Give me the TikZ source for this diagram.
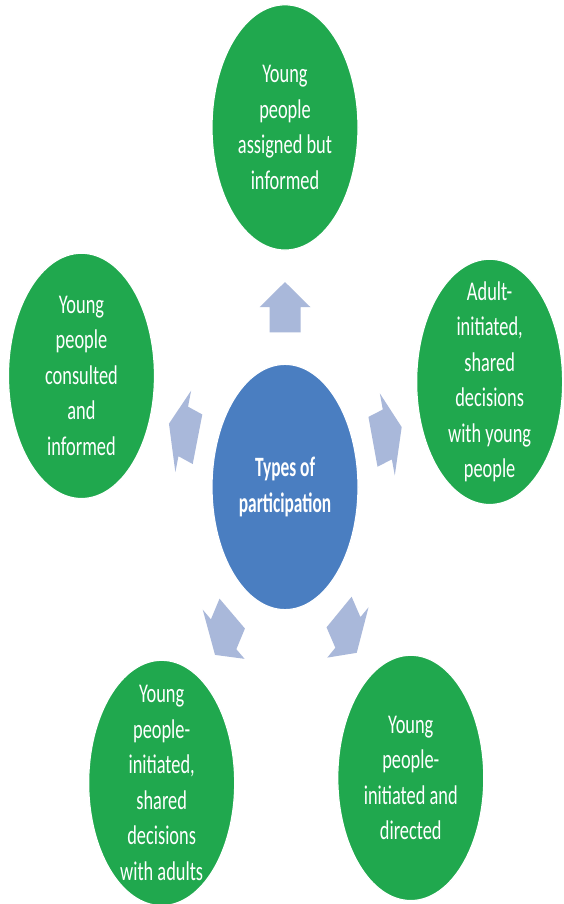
\documentclass[tikz,border=0pt]{standalone}
\usepackage{fontspec}
\newfontfamily\bubblefont[FakeStretch=0.68]{Carlito}
\newfontfamily\hubfont[FakeStretch=0.62]{Carlito}
\definecolor{bubblegreen}{HTML}{20A84E}
\definecolor{hubblue}{HTML}{4A7EC1}
\definecolor{arrowblue}{HTML}{A9B8DA}
\tikzset{
  bubblefill/.style={fill=bubblegreen, draw=white, line width=1.2pt},
  hubfill/.style={fill=hubblue, draw=white, line width=1.2pt},
  bubbletext/.style={text=white, align=center, inner sep=0pt,
    font={\bubblefont\fontsize{27}{35.5}\selectfont}},
  hubtext/.style={text=white, align=center, inner sep=0pt,
    font={\hubfont\bfseries\fontsize{28}{36}\selectfont}},
  blockarrow/.style={fill=arrowblue}
}
\begin{document}
\begin{tikzpicture}[x=1pt,y=1pt]
\useasboundingbox (0,-904) rectangle (564,0);
\fill[white] (0,-904) rectangle (564,0);
\begin{scope}[shift={(285,-487)}, yscale=1.68]
  % positions
  \coordinate (c0) at (0,0);
  \coordinate (c1) at (90:214);
  \coordinate (c2) at (17:214);
  \coordinate (c3) at (-54:214);
  \coordinate (c4) at (-125:215);
  \coordinate (c5) at (162:214);
  % circles (stretched into ellipses by the scope)
  \path[hubfill] (c0) circle (73);
  \foreach \i in {1,...,5} { \path[bubblefill] (c\i) circle (73); }
  % block arrows
  \foreach \a in {90,17,-54,-125,162} {
    \fill[blockarrow, rotate=\a] (92,-15.5) -- (107,-15.5) -- (107,-25.5) -- (122,0)
      -- (107,25.5) -- (107,15.5) -- (92,15.5) -- cycle;
  }
  % texts
  \node[hubtext] (hub) at (c0) {Types of\\participation};
  \node[bubbletext] (n1) at (c1) {Young\\people\\assigned but\\informed};
  \node[bubbletext] (n2) at (c2) {Adult-\\initiated,\\shared\\decisions\\with young\\people};
  \node[bubbletext] (n3) at (c3) {Young\\people-\\initiated and\\directed};
  \node[bubbletext] (n4) at (c4) {Young\\people-\\initiated,\\shared\\decisions\\with adults};
  \node[bubbletext] (n5) at (c5) {Young\\people\\consulted\\and\\informed};
\end{scope}
\end{tikzpicture}
\end{document}
